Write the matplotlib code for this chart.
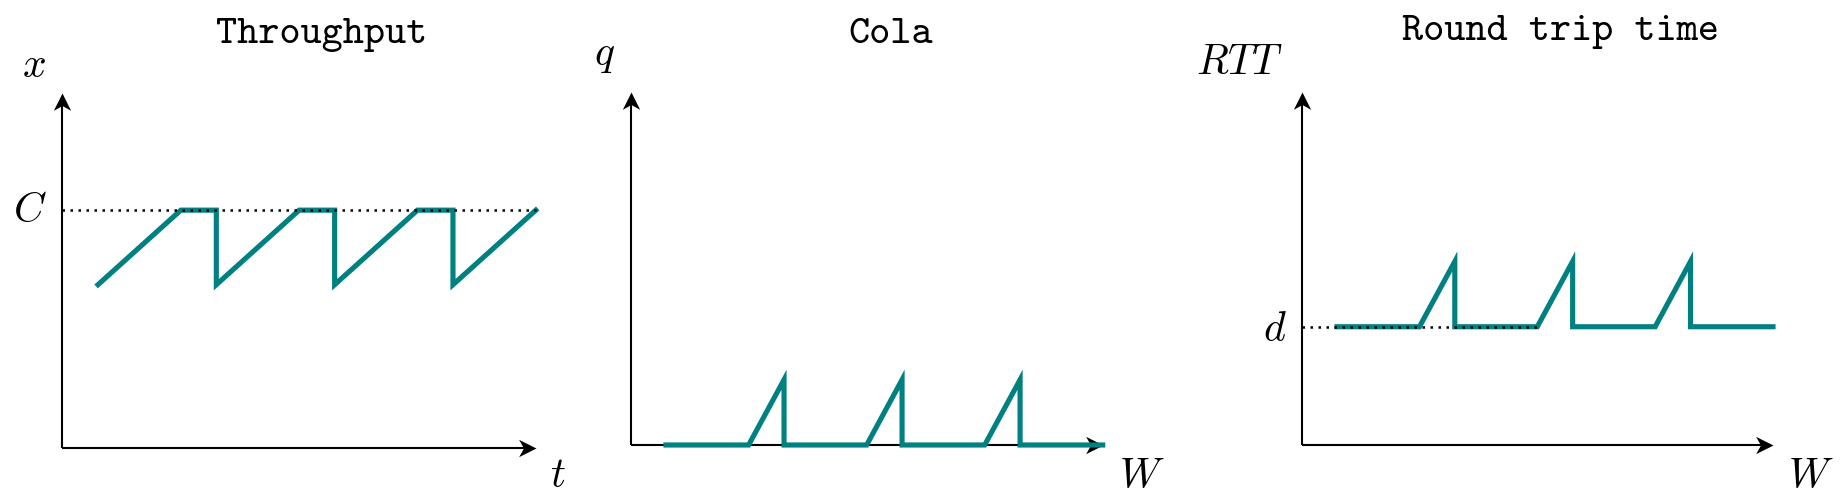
import os
import matplotlib
matplotlib.use("Agg")
import matplotlib.pyplot as plt
from matplotlib.font_manager import FontProperties
from matplotlib.path import Path

plt.rcParams['mathtext.fontset'] = 'cm'

TEAL = '#008080'

# ---- data ----
titles = ['Throughput', 'Cola', 'Round trip time']
ylabels = [r'$x$', r'$q$', r'$RTT$']
xlabels = [r'$t$', r'$W$', r'$W$']

t_thr = [0.75, 2.5, 3.25, 3.25, 5.0, 5.75, 5.75, 7.5, 8.25, 8.25, 10.0]
C_level = 6.7
x_thr = [4.6, 6.7, 6.7, 4.6, 6.7, 6.7, 4.6, 6.7, 6.7, 4.6, 6.7]

w_cola = [0.75, 2.5, 3.25, 3.25, 5.0, 5.75, 5.75, 7.5, 8.25, 8.25, 10.0]
q_cola = [0.0, 0.0, 1.85, 0.0, 0.0, 1.85, 0.0, 0.0, 1.85, 0.0, 0.0]

w_rtt = [0.75, 2.5, 3.25, 3.25, 5.0, 5.75, 5.75, 7.5, 8.25, 8.25, 10.0]
d_level = 3.35
d_dotted_end = 5.0
rtt = [3.35, 3.35, 5.2, 3.35, 3.35, 5.2, 3.35, 3.35, 5.2, 3.35, 3.35]

tt_font = FontProperties(fname=os.path.join(matplotlib.get_data_path(), 'fonts', 'ttf', 'cmtt10.ttf'),
                         size=29)

W, H = 1849, 504
fig = plt.figure(figsize=(W / 100, H / 100), dpi=100)

def px_axes(left, right, bottom_y, top_y):
    return fig.add_axes([left / W, (H - bottom_y) / H, (right - left) / W, (bottom_y - top_y) / H])

axes = [px_axes(62.5, 535.8, 448, 93),
        px_axes(630.6, 1102.7, 445, 92),
        px_axes(1301.6, 1773, 445, 92)]

LW_AX = 1.5
LW_T = 3.7
FS_M = 30

stealth = Path([(0, 0), (-1, 0.5), (-0.72, 0), (-1, -0.5), (0, 0)],
               [Path.MOVETO, Path.LINETO, Path.LINETO, Path.LINETO, Path.CLOSEPOLY])

for ax in axes:
    ax.set_xlim(0, 10)
    ax.set_ylim(0, 10)
    ax.axis('off')
    ax.plot([0, 9.8], [0, 0], color='black', lw=LW_AX, clip_on=False, zorder=2, solid_capstyle='butt')
    ax.plot([0, 0], [0, 9.8], color='black', lw=LW_AX, clip_on=False, zorder=2, solid_capstyle='butt')
    ax.plot([10], [0], marker=stealth, ms=25, color='black', mew=0, clip_on=False, zorder=2)
    up = stealth.transformed(matplotlib.transforms.Affine2D().rotate_deg(90))
    ax.plot([0], [10], marker=up, ms=25, color='black', mew=0, clip_on=False, zorder=2)

dots = (0, (1, 2.2))
LW_DOT = 1.8

# Throughput
ax = axes[0]
ax.plot(t_thr, x_thr, color=TEAL, lw=LW_T, zorder=3, clip_on=False, solid_joinstyle='miter')
ax.plot([0, 10], [C_level, C_level], color='black', lw=LW_DOT, ls=dots, zorder=4,
        clip_on=False, dash_capstyle='butt')
ax.text(-0.69, C_level, r'$C$', fontsize=FS_M, ha='center', va='center')
ax.text(-0.61, 10.45, ylabels[0], fontsize=FS_M, ha='center', va='baseline')
ax.text(10.46, -1.1, xlabels[0], fontsize=FS_M, ha='center', va='baseline')
ax.text(5.48, 11.41, titles[0], fontproperties=tt_font, ha='center', va='baseline')

# Cola
ax = axes[1]
ax.plot(w_cola, q_cola, color=TEAL, lw=LW_T, zorder=3, clip_on=False, solid_joinstyle='miter')
ax.text(-0.55, 10.76, ylabels[1], fontsize=FS_M, ha='center', va='baseline')
ax.text(10.82, -1.22, xlabels[1], fontsize=FS_M, ha='center', va='baseline')
ax.text(5.5, 11.39, titles[1], fontproperties=tt_font, ha='center', va='baseline')

# RTT
ax = axes[2]
ax.plot(w_rtt, rtt, color=TEAL, lw=LW_T, zorder=3, clip_on=False, solid_joinstyle='miter')
ax.plot([0, d_dotted_end], [d_level, d_level], color='black', lw=LW_DOT, ls=dots, zorder=4,
        clip_on=False, dash_capstyle='butt')
ax.text(-0.57, 2.95, r'$d$', fontsize=FS_M, ha='center', va='baseline')
ax.text(-1.31, 10.5, ylabels[2], fontsize=FS_M, ha='center', va='baseline')
ax.text(10.8, -1.22, xlabels[2], fontsize=FS_M, ha='center', va='baseline')
ax.text(5.5, 11.47, titles[2], fontproperties=tt_font, ha='center', va='baseline')

fig.savefig('out.png', dpi=100)
